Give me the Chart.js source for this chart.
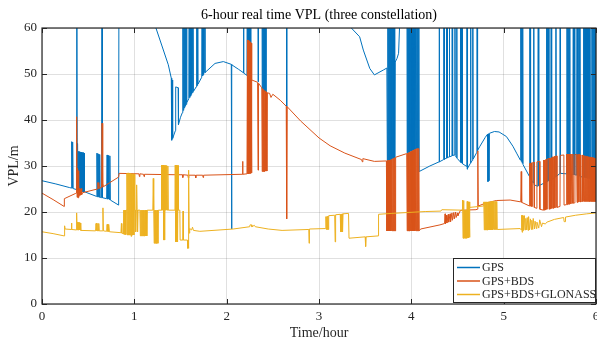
<!DOCTYPE html>
<html>
<head>
<meta charset="utf-8">
<script src="https://cdn.jsdelivr.net/npm/chart.js@4.4.1/dist/chart.umd.min.js"></script>
<style>
  html, body { margin: 0; padding: 0; background: #fff; }
</style>
</head>
<body>
<canvas id="c" width="597" height="345"></canvas>
<script>
/* ── Data: [hour, VPL m] pairs; 100 = off the top ── */
const hours = [0, 1, 2, 3, 4, 5, 6];
const vplTicks = [0, 10, 20, 30, 40, 50, 60];
const seriesNames = ['GPS', 'GPS+BDS', 'GPS+BDS+GLONASS'];

const gps = [
  [0,26.8],[0.15,26.1],[0.30,25.3],[0.32,25.2],[0.322,35.3],[0.327,25.2],[0.332,35.2],[0.337,25.1],
  [0.37,24.9],[0.375,34.9],[0.378,100],[0.381,24.8],[0.385,34.9],[0.39,24.7],
  [0.395,33.2],[0.40,24.6],[0.405,33.1],[0.41,24.6],[0.415,33.0],[0.42,24.5],[0.425,33.0],[0.43,24.5],
  [0.435,32.9],[0.44,24.4],[0.445,32.9],[0.45,24.4],[0.455,32.8],[0.46,24.4],
  [0.59,23.4],[0.595,32.8],[0.60,23.3],[0.605,32.7],[0.61,23.3],[0.615,32.6],[0.62,23.2],[0.625,32.5],[0.63,23.2],
  [0.645,23.1],[0.65,100],[0.655,23.1],
  [0.70,22.9],[0.705,32.4],[0.71,22.8],[0.715,32.3],[0.72,22.8],[0.725,32.3],[0.73,22.7],[0.735,32.2],[0.74,22.6],
  [0.83,21.5],[0.835,100],[1.20,100],
  [1.224,60.6],[1.296,56.3],[1.368,52.0],[1.40,49.1],[1.405,35.6],[1.41,48.7],[1.415,36.0],
  [1.445,37.7],[1.448,47.2],[1.475,47.0],[1.478,39.0],[1.50,40.6],
  [1.52,41.6],[1.525,100],[1.53,42.1],[1.535,100],[1.54,42.6],[1.545,100],[1.55,43.0],[1.555,100],[1.56,43.4],[1.565,100],[1.57,43.8],
  [1.59,44.6],[1.595,100],[1.60,44.9],[1.605,100],[1.61,45.2],[1.615,100],[1.62,45.6],[1.625,100],[1.63,45.9],[1.635,100],[1.64,46.2],
  [1.67,47.2],[1.675,100],[1.68,47.5],[1.685,100],[1.69,47.8],
  [1.73,49.3],[1.735,100],[1.74,49.6],[1.745,100],[1.75,49.9],[1.755,100],[1.765,50.3],
  [1.874,52.3],[1.964,52.7],[2.05,52.1],[2.053,16.3],[2.057,52.0],
  [2.13,51.0],[2.18,50.3],[2.183,100],[2.186,50.2],
  [2.22,49.7],[2.225,100],[2.23,49.6],[2.235,100],[2.24,49.5],[2.245,100],[2.25,49.3],[2.255,100],[2.26,49.2],[2.265,100],
  [2.335,100],[2.34,48.3],[2.345,100],
  [2.38,100],[2.385,46.8],[2.39,100],[2.395,46.6],[2.40,100],[2.405,46.4],[2.41,100],[2.415,46.2],[2.42,100],[2.425,46.0],[2.43,100],
  [2.645,100],[2.65,42.9],[2.655,100],
  [3.33,100],[3.35,60.0],[3.44,58.1],[3.48,55.2],[3.55,51.2],[3.60,49.8],[3.70,50.9],[3.735,51.3],
  [3.74,31.2],[3.745,100],[3.75,31.2],[3.755,100],[3.76,31.3],[3.765,100],[3.77,31.3],[3.775,100],[3.78,31.4],[3.785,100],
  [3.79,31.5],[3.795,100],[3.80,31.6],[3.805,100],[3.81,31.7],[3.815,100],[3.82,31.8],
  [3.825,52.6],[3.845,53.4],[3.862,54.5],[3.872,60.0],[3.88,100],
  [3.95,100],[3.955,32.8],[3.96,100],[3.965,32.9],[3.97,100],[3.975,33.0],[3.98,100],[3.985,33.1],[3.99,100],[3.995,33.2],
  [4.00,100],[4.005,33.3],[4.01,100],[4.015,33.4],[4.02,100],[4.025,33.5],[4.03,100],[4.035,33.6],[4.04,100],[4.045,33.7],
  [4.05,100],[4.055,33.8],[4.06,100],[4.065,33.8],[4.07,100],[4.075,33.8],[4.08,100],[4.085,28.8],
  [4.20,30.0],[4.30,30.9],[4.302,100],[4.305,30.9],
  [4.35,31.4],[4.352,100],[4.355,31.4],[4.357,100],[4.36,31.5],
  [4.38,31.7],[4.382,100],[4.385,31.7],[4.387,100],[4.39,31.8],
  [4.41,32.0],[4.412,100],[4.415,32.0],
  [4.44,32.2],[4.442,100],[4.445,32.2],[4.447,100],[4.45,32.3],
  [4.47,32.4],[4.472,100],[4.475,32.3],
  [4.49,31.8],[4.492,100],[4.495,31.7],
  [4.53,30.9],[4.532,100],[4.535,30.8],[4.54,100],[4.545,30.7],[4.55,30.6],[4.552,100],[4.555,30.5],
  [4.60,29.9],[4.602,100],[4.605,29.3],[4.607,100],[4.61,29.5],
  [4.64,30.6],[4.642,100],[4.645,30.7],
  [4.66,31.2],[4.662,100],[4.665,31.3],[4.667,100],[4.67,31.5],
  [4.71,33.0],[4.712,100],[4.715,33.1],[4.717,100],[4.72,33.4],
  [4.74,34.2],[4.80,36.2],[4.825,36.9],[4.83,26.6],[4.835,37.0],[4.84,26.8],[4.845,37.1],
  [4.90,37.5],[4.95,37.4],[5.03,36.4],[5.10,34.3],[5.14,32.8],
  [5.18,31.3],[5.185,100],[5.19,31.0],[5.195,100],[5.20,30.6],[5.205,100],[5.21,30.3],
  [5.28,27.7],[5.283,100],[5.287,27.5],[5.29,100],[5.293,27.3],
  [5.32,26.3],[5.325,100],[5.33,25.9],
  [5.37,25.6],[5.375,100],[5.38,25.7],
  [5.46,26.5],[5.465,100],[5.47,26.6],[5.475,100],[5.48,26.7],[5.485,100],[5.49,26.8],
  [5.51,27.0],[5.515,100],[5.52,27.1],
  [5.56,27.6],[5.565,100],[5.57,27.7],
  [5.61,28.4],[5.612,100],[5.615,28.4],
  [5.68,28.3],[5.685,100],[5.69,28.3],[5.695,100],[5.70,28.2],[5.705,100],[5.71,28.2],[5.715,100],[5.72,28.2],
  [5.75,28.1],[5.755,100],[5.76,28.1],[5.765,100],[5.77,28.1],
  [5.79,28.0],[5.795,100],[5.80,27.9],[5.805,100],[5.81,27.9],[5.815,100],[5.82,27.8],[5.825,100],[5.83,27.7],
  [5.86,27.6],[5.865,100],[5.87,27.5],[5.875,100],[5.88,27.5],[5.885,100],[5.89,27.4],[5.895,100],[5.90,27.4],
  [5.905,100],[5.91,27.3],[5.915,100],[5.92,27.3],[5.925,100],[5.93,27.2],[5.935,100],[5.94,27.2],
  [5.95,27.1],[5.955,100],[5.96,27.1],[5.965,100],[5.97,27.0],[5.975,100],[5.98,27.0],[5.985,100],[5.99,27.0],[5.995,100],[6.0,27.0]
];

const bds = [
  [0,24.1],[0.12,22.7],[0.24,21.2],[0.242,22.9],[0.36,24.0],
  [0.37,24.1],[0.375,40.7],[0.38,23.2],[0.385,29.5],[0.39,23.1],[0.395,29.0],[0.40,23.3],[0.405,25.1],[0.41,23.6],
  [0.415,25.0],[0.42,23.7],[0.425,25.1],[0.43,23.8],[0.44,24.2],
  [0.60,25.0],[0.605,26.4],[0.61,25.1],[0.615,26.4],[0.62,25.2],[0.645,25.3],[0.65,39.3],[0.655,25.4],[0.66,26.2],[0.665,25.5],
  [0.83,27.6],[0.835,28.4],
  [1.05,28.3],[1.055,27.7],[1.06,28.3],[1.10,28.2],[1.105,27.7],[1.11,28.2],[1.45,28.1],[1.455,27.5],[1.46,28.1],
  [1.52,28.1],[1.525,27.5],[1.53,28.1],[1.58,28.0],[1.585,27.4],[1.59,28.0],[1.66,28.0],[1.665,27.4],[1.67,28.0],
  [1.74,28.0],[1.745,27.5],[1.75,28.0],
  [2.17,28.2],[2.173,31.0],[2.176,28.2],
  [2.22,28.3],[2.225,57.4],[2.23,28.3],[2.235,57.3],[2.24,28.3],[2.245,57.1],[2.25,28.4],[2.255,56.9],[2.26,28.4],[2.265,56.7],[2.27,28.5],[2.272,48.7],
  [2.335,48.2],[2.34,29.1],[2.345,48.0],
  [2.38,47.0],[2.385,28.8],[2.39,46.8],[2.395,28.8],[2.40,46.6],[2.405,28.8],[2.41,46.4],[2.415,28.9],[2.42,46.2],[2.425,28.9],[2.43,46.0],[2.435,28.9],[2.44,45.9],
  [2.465,45.8],[2.48,44.9],[2.50,45.6],[2.58,44.3],[2.645,43.0],[2.65,18.5],[2.655,42.9],
  [2.8,39.8],[3.0,36.1],[3.12,34.4],[3.28,32.8],[3.46,31.4],[3.47,30.9],[3.475,31.6],[3.60,31.0],[3.73,31.1],
  [3.735,15.9],[3.74,31.2],[3.745,15.9],[3.75,31.2],[3.755,15.9],[3.76,31.3],[3.765,15.9],[3.77,31.3],[3.775,15.9],[3.78,31.4],
  [3.785,15.9],[3.79,31.5],[3.795,15.9],[3.80,31.6],[3.805,15.9],[3.81,31.7],[3.815,15.9],[3.82,31.8],[3.825,15.9],[3.83,31.9],
  [3.95,32.7],[3.955,15.9],[3.96,32.8],[3.965,15.9],[3.97,32.9],[3.975,15.9],[3.98,33.0],[3.985,15.9],[3.99,33.1],[3.995,15.9],
  [4.00,33.2],[4.005,15.9],[4.01,33.3],[4.015,15.9],[4.02,33.4],[4.025,15.9],[4.03,33.5],[4.035,15.9],[4.04,33.6],[4.045,15.9],
  [4.05,33.7],[4.055,15.9],[4.06,33.8],[4.065,15.9],[4.07,33.8],[4.075,15.9],[4.08,33.8],[4.085,15.9],
  [4.10,16.3],[4.31,17.2],
  [4.36,17.5],[4.365,19.6],[4.37,17.4],[4.38,19.3],[4.385,17.6],[4.40,19.5],[4.405,17.8],[4.42,19.6],[4.425,17.9],
  [4.44,19.8],[4.445,18.2],[4.46,19.9],[4.465,18.5],[4.48,20.0],[4.485,18.8],[4.50,19.8],[4.505,19.2],[4.53,20.3],[4.55,20.4],
  [4.70,20.5],[4.715,20.6],[4.72,33.3],[4.725,21.3],[4.80,21.9],[4.92,22.5],[5.07,22.6],[5.185,22.2],[5.19,28.8],[5.195,22.1],
  [5.28,21.3],[5.282,30.6],[5.287,21.3],[5.292,30.6],[5.297,21.2],[5.302,30.7],[5.307,21.2],[5.31,30.7],
  [5.33,30.8],[5.332,21.0],[5.358,20.8],[5.36,30.9],[5.39,31.0],[5.392,20.6],[5.43,20.4],
  [5.433,31.3],[5.438,20.4],[5.443,31.3],[5.448,20.5],[5.453,31.4],[5.458,20.5],[5.463,31.4],[5.468,20.6],[5.47,31.5],[5.49,31.6],[5.492,20.6],
  [5.497,31.7],[5.502,20.7],[5.507,31.7],[5.512,20.7],[5.517,31.8],[5.522,20.8],[5.53,32.0],[5.535,20.8],[5.54,32.0],[5.545,20.9],[5.55,32.1],[5.555,20.9],[5.56,32.1],
  [5.575,32.2],[5.577,21.0],[5.61,21.2],[5.612,32.3],[5.652,32.4],[5.654,21.5],[5.68,21.6],
  [5.683,32.6],[5.688,21.6],[5.693,32.6],[5.698,21.7],[5.703,32.6],[5.708,21.7],[5.713,32.6],[5.718,21.8],[5.723,32.6],[5.728,21.8],
  [5.74,32.6],[5.745,21.9],[5.75,32.6],[5.755,21.9],
  [5.77,22.0],[5.772,32.5],[5.79,32.5],[5.795,22.1],[5.80,32.5],[5.805,22.1],[5.81,32.5],[5.815,22.2],[5.82,32.5],[5.83,32.4],[5.832,22.2],[5.845,22.3],
  [5.85,32.4],[5.855,22.3],[5.86,32.3],[5.865,22.3],[5.87,32.3],[5.875,22.3],[5.88,32.2],[5.885,22.3],[5.89,32.2],[5.895,22.3],
  [5.90,32.1],[5.905,22.3],[5.91,32.1],[5.915,22.3],[5.92,32.0],[5.925,22.3],[5.93,32.0],[5.935,22.3],[5.94,31.9],[5.945,22.3],
  [5.95,31.9],[5.955,22.3],[5.96,31.8],[5.965,22.3],[5.97,31.8],[5.975,22.3],[5.98,31.7],[5.985,22.3],[5.99,31.7],[5.995,22.3],[6.0,31.6]
];

const glo = [
  [0,15.7],[0.12,15.3],[0.24,14.8],[0.243,16.3],[0.247,17.0],[0.25,16.3],
  [0.318,16.2],[0.32,17.6],[0.323,16.2],
  [0.37,16.1],[0.375,19.8],[0.38,16.1],[0.385,17.8],[0.39,16.1],[0.395,17.8],[0.40,16.1],[0.405,17.7],[0.41,16.1],[0.415,17.6],[0.42,16.0],
  [0.58,15.9],[0.585,17.5],[0.59,15.9],[0.595,17.6],[0.60,15.9],[0.605,17.5],[0.61,15.9],[0.615,17.5],[0.62,15.9],
  [0.655,15.9],[0.66,20.9],[0.665,15.9],
  [0.70,15.8],[0.705,17.3],[0.71,15.8],[0.715,17.3],[0.72,15.7],[0.725,17.2],[0.73,15.7],
  [0.855,15.5],[0.86,17.5],[0.865,15.4],
  [0.88,15.3],[0.883,20.4],[0.888,15.2],[0.893,20.4],[0.898,15.1],[0.903,20.4],[0.908,15.1],[0.913,20.4],
  [0.92,28.4],[0.925,15.0],[0.93,28.5],[0.935,15.0],[0.94,28.5],[0.945,15.0],[0.95,28.4],[0.955,15.0],[0.96,28.4],
  [0.965,14.7],[0.97,28.3],[0.975,15.0],[0.98,28.3],[0.985,15.0],[0.99,28.3],[0.995,15.0],[1.0,28.2],[1.005,20.4],
  [1.01,20.4],[1.015,15.7],[1.02,20.4],[1.025,25.9],[1.03,20.4],[1.035,15.7],[1.04,20.4],
  [1.06,20.4],[1.065,14.8],[1.07,20.4],[1.075,14.8],[1.08,20.4],[1.085,14.8],[1.09,20.4],[1.095,14.8],[1.10,20.4],
  [1.105,14.8],[1.11,20.4],[1.115,14.8],[1.12,20.4],[1.125,14.8],[1.13,20.4],[1.135,14.8],[1.14,20.4],
  [1.20,20.4],[1.205,27.3],[1.21,20.4],
  [1.215,13.2],[1.22,20.4],[1.225,13.2],[1.23,20.4],[1.235,13.2],[1.24,20.4],[1.245,13.2],[1.25,20.4],[1.255,13.2],[1.26,20.4],
  [1.29,20.4],[1.293,30.2],[1.298,20.4],[1.303,30.2],[1.308,20.4],[1.313,30.2],[1.318,13.9],[1.323,30.1],[1.328,13.9],
  [1.333,30.1],[1.338,20.4],[1.343,30.1],[1.348,20.4],[1.353,30.0],[1.358,20.4],[1.363,30.0],[1.368,20.4],
  [1.44,20.4],[1.443,30.2],[1.448,13.5],[1.453,30.2],[1.458,13.5],[1.463,30.1],[1.468,13.5],[1.473,30.1],[1.478,20.4],
  [1.493,20.4],[1.496,13.9],[1.525,13.9],[1.528,20.2],[1.531,13.9],
  [1.575,13.9],[1.578,12.1],[1.583,13.9],[1.586,12.1],[1.59,29.1],[1.594,15.4],[1.60,16.4],[1.62,16.1],[1.63,16.7],[1.64,16.0],
  [1.71,15.8],[2.07,16.3],[2.25,16.8],[2.253,17.2],[2.27,17.2],[2.273,16.8],[2.30,17.1],[2.31,16.8],[2.45,16.3],[2.60,16.0],
  [2.89,16.2],[2.893,13.2],[2.896,16.3],[3.07,16.4],
  [3.075,19.0],[3.08,16.2],[3.085,19.0],[3.09,16.2],[3.095,19.1],[3.10,16.2],[3.105,19.2],
  [3.17,19.3],[3.175,13.5],[3.18,19.4],
  [3.23,19.5],[3.235,15.7],[3.24,19.5],[3.245,15.7],[3.25,19.6],[3.255,15.7],[3.26,19.6],
  [3.32,19.7],[3.325,14.3],[3.50,14.6],[3.505,12.5],[3.51,14.6],[3.64,14.8],[3.645,19.5],
  [3.79,19.7],[4.15,20.1],[4.32,20.2],[4.33,20.5],[4.55,20.4],
  [4.555,22.6],[4.56,14.3],[4.565,22.5],[4.57,14.3],[4.575,20.4],[4.58,14.3],[4.585,20.4],[4.59,14.3],[4.595,20.4],[4.60,14.3],
  [4.605,22.3],[4.61,14.4],[4.615,22.2],[4.62,14.4],[4.625,22.2],[4.63,14.5],[4.635,21.0],[4.78,21.3],
  [4.785,22.2],[4.79,16.1],[4.795,22.2],[4.80,16.1],[4.805,22.2],[4.81,16.1],[4.815,22.2],[4.82,16.1],[4.825,22.2],[4.83,16.1],
  [4.835,22.2],[4.84,16.1],[4.845,22.2],[4.85,16.1],[4.855,22.2],[4.86,16.1],[4.865,22.3],[4.87,16.1],[4.875,22.3],[4.88,16.1],
  [4.885,22.3],[4.89,16.2],[4.895,22.3],[4.90,16.2],[4.905,22.3],[4.91,16.2],[4.915,22.3],[4.92,16.2],[4.925,22.3],[4.93,16.2],
  [5.18,16.4],
  [5.19,16.1],[5.195,19.3],[5.20,15.6],[5.205,19.3],[5.21,16.0],[5.215,19.2],[5.22,16.1],[5.225,19.2],[5.235,16.1],[5.24,18.6],
  [5.25,16.1],[5.255,18.8],[5.265,16.0],[5.27,19.0],[5.28,16.1],[5.29,18.5],[5.30,16.2],[5.305,18.2],[5.315,16.2],[5.32,18.6],
  [5.335,16.3],[5.34,18.0],[5.355,16.4],[5.36,17.8],[5.38,16.5],[5.39,18.3],[5.41,16.8],[5.42,17.6],[5.45,17.4],[5.47,17.8],
  [5.55,18.4],[5.65,18.8],[5.655,17.9],[5.665,17.9],[5.67,18.9],[5.78,19.3],[5.90,19.6],[6.0,19.8]
];

const COLORS = ['#0072BD', '#D95319', '#EDB120'];
const SERIF = "'Liberation Serif', 'Times New Roman', serif";
const INK = '#262626';
const GRID = 'rgba(38,38,38,0.14)';

const toXY = arr => arr.map(([x, y]) => ({ x, y }));

/* ── MATLAB-like frame, inward ticks, title, legend ── */
const frame = {
  id: 'frame',
  afterDatasetsDraw(chart) {
    const { ctx, chartArea: a, scales: { x, y } } = chart;
    ctx.save();
    ctx.strokeStyle = INK;
    ctx.lineWidth = 1;
    ctx.beginPath();
    hours.forEach(v => {
      const px = Math.round(x.getPixelForValue(v)) + 0.5;
      ctx.moveTo(px, a.bottom); ctx.lineTo(px, a.bottom - 5);
      ctx.moveTo(px, a.top); ctx.lineTo(px, a.top + 5);
    });
    vplTicks.forEach(v => {
      const py = Math.round(y.getPixelForValue(v)) + 0.5;
      ctx.moveTo(a.left, py); ctx.lineTo(a.left + 5, py);
      ctx.moveTo(a.right, py); ctx.lineTo(a.right - 5, py);
    });
    ctx.stroke();
    ctx.lineWidth = 1.2;
    ctx.strokeRect(a.left, a.top, a.right - a.left, a.bottom - a.top);

    // title
    ctx.fillStyle = '#000';
    ctx.font = `14px ${SERIF}`;
    ctx.textAlign = 'center';
    ctx.textBaseline = 'middle';
    ctx.fillText('6-hour real time VPL (three constellation)', (a.left + a.right) / 2, 15);

    // legend
    const w = 143, h = 45;
    const lx = a.right - w, ly = a.bottom - h - 1;
    ctx.fillStyle = '#fff';
    ctx.fillRect(lx, ly, w, h);
    ctx.lineWidth = 1;
    ctx.strokeStyle = INK;
    ctx.strokeRect(lx + 0.5, ly + 0.5, w - 1, h - 1);
    ctx.font = `12px ${SERIF}`;
    ctx.textAlign = 'left';
    const rows = [9.5, 23, 36.5];
    seriesNames.forEach((name, i) => {
      const ry = ly + rows[i];
      ctx.strokeStyle = COLORS[i];
      ctx.lineWidth = 1.5;
      ctx.beginPath(); ctx.moveTo(lx + 4, ry); ctx.lineTo(lx + 27, ry); ctx.stroke();
      ctx.fillStyle = INK;
      ctx.fillText(name, lx + 29, ry + 0.5);
    });
    ctx.restore();
  }
};

new Chart(document.getElementById('c'), {
  type: 'line',
  data: {
    datasets: [
      { label: seriesNames[0], data: toXY(gps), borderColor: COLORS[0], order: 3 },
      { label: seriesNames[1], data: toXY(bds), borderColor: COLORS[1], order: 2 },
      { label: seriesNames[2], data: toXY(glo), borderColor: COLORS[2], order: 1 }
    ]
  },
  options: {
    responsive: false,
    animation: false,
    devicePixelRatio: 1,
    events: [],
    layout: { padding: { top: 28, right: 1, bottom: 0, left: 0 } },
    elements: {
      point: { radius: 0, hoverRadius: 0 },
      line: { borderWidth: 1, tension: 0, fill: false }
    },
    plugins: { legend: { display: false }, tooltip: { enabled: false }, title: { display: false } },
    scales: {
      x: {
        type: 'linear', min: 0, max: 6,
        afterBuildTicks: s => { s.ticks = hours.map(v => ({ value: v })); },
        afterFit: s => { s.height = 41; s.paddingLeft = 0; s.paddingRight = 0; },
        ticks: { padding: 5, color: INK, font: { family: SERIF, size: 13 }, maxRotation: 0, autoSkip: false },
        grid: { color: GRID, drawTicks: false },
        border: { display: false },
        title: { display: true, text: 'Time/hour', color: INK, font: { family: SERIF, size: 14 }, padding: { top: 0, bottom: 3.5 } }
      },
      y: {
        min: 0, max: 60,
        afterBuildTicks: s => { s.ticks = vplTicks.map(v => ({ value: v })); },
        afterFit: s => { s.width = 42; s.paddingTop = 0; s.paddingBottom = 0; },
        ticks: { padding: 5, color: INK, font: { family: SERIF, size: 13 }, autoSkip: false },
        grid: { color: GRID, drawTicks: false },
        border: { display: false },
        title: { display: true, text: 'VPL/m', color: INK, font: { family: SERIF, size: 14 }, padding: { top: 5.5, bottom: 0 } }
      }
    }
  },
  plugins: [frame]
});
</script>
</body>
</html>
